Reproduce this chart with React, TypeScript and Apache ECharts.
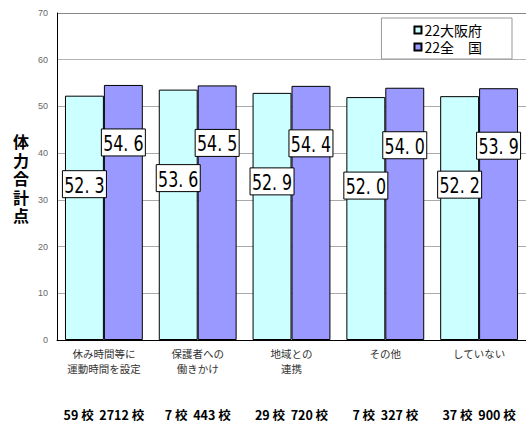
import React, { useEffect, useRef } from "react";
import * as echarts from "echarts";

const categories = ["休み時間等に\n運動時間を設定", "保護者への\n働きかけ", "地域との\n連携", "その他", "していない"];
const osakaValues = [52.3, 53.6, 52.9, 52.0, 52.2];
const nationalValues = [54.6, 54.5, 54.4, 54.0, 53.9];
const osakaSchools = [59, 7, 29, 7, 37];
const nationalSchools = [2712, 443, 720, 327, 900];
const seriesNames = ["22大阪府", "22全　国"];
const yTicks = { min: 0, max: 70, interval: 10 };
const yAxisTitle = "体力合計点";

const schoolLabels = osakaSchools.map((o, i) => `${o} 校  ${nationalSchools[i]} 校`);

const fmt = (v: number) => v.toFixed(1).replace(".", ". ");

const CAT_GAP = 0.17;

function labelSeries(values: number[], side: number, dist: number) {
  return {
    type: "custom",
    silent: true,
    z: 5,
    data: values.map((v, i) => [i, v]),
    encode: { x: 0, y: 1 },
    renderItem: (params: any, api: any) => {
      const idx = api.value(0);
      const val = api.value(1);
      const pt = api.coord([idx, val]);
      const catW = api.size([1, 0])[0];
      const barW = (catW * (1 - CAT_GAP)) / 2;
      const cx = pt[0] + (side * barW) / 2;
      const top = pt[1] + dist;
      const w = 44;
      const h = 27;
      return {
        type: "group",
        children: [
          {
            type: "rect",
            shape: { x: cx - w / 2, y: top, width: w, height: h },
            style: { fill: "#fff", stroke: "#000", lineWidth: 1 },
          },
          {
            type: "text",
            x: cx,
            y: top + h / 2 + 1,
            scaleX: 0.72,
            style: {
              text: fmt(val),
              font: "22px 'DejaVu Sans', sans-serif",
              fill: "#000",
              align: "center",
              verticalAlign: "middle",
            },
          },
        ],
      };
    },
  };
}

export default function App() {
  const ref = useRef<HTMLDivElement>(null);
  useEffect(() => {
    if (!ref.current) return;
    const chart = echarts.init(ref.current, null, { renderer: "svg" });
    chart.setOption({
      animation: false,
      textStyle: { fontFamily: "'Noto Sans CJK JP', sans-serif" },
      grid: { left: 57, right: -1, top: 13, bottom: 86, containLabel: false },
      legend: {
        orient: "vertical",
        right: 14,
        top: 18,
        padding: [5, 30, 5, 32],
        itemGap: 3,
        itemWidth: 7,
        itemHeight: 7,
        icon: "rect",
        backgroundColor: "#fff",
        borderColor: "#999",
        borderWidth: 1,
        textStyle: { fontSize: 14, color: "#000", padding: [0, 0, 0, -2] },
        data: seriesNames,
      },
      graphic: yAxisTitle.split("").map((ch, i) => ({
        type: "text",
        x: 21,
        y: 141 + i * 18.5,
        style: {
          text: ch,
          font: "bold 16px 'Noto Sans CJK JP', sans-serif",
          fill: "#000",
          align: "center",
          verticalAlign: "middle",
        },
      })),
      xAxis: [
        {
          type: "category",
          data: categories,
          axisLine: { show: true, lineStyle: { color: "#000", width: 1 } },
          axisTick: { show: false },
          axisLabel: { fontSize: 10.5, color: "#333", lineHeight: 15, margin: 6, interval: 0 },
        },
        {
          type: "category",
          data: schoolLabels,
          position: "bottom",
          axisLine: { show: false },
          axisTick: { show: false },
          axisLabel: { fontSize: 12.5, fontWeight: "bold", color: "#000", margin: 68, interval: 0 },
        },
      ],
      yAxis: {
        type: "value",
        min: yTicks.min,
        max: yTicks.max,
        interval: yTicks.interval,
        axisLine: { show: true, lineStyle: { color: "#000", width: 1 } },
        axisTick: { show: false },
        axisLabel: { fontSize: 9, color: "#666", margin: 9, fontFamily: "'Liberation Sans', sans-serif" },
        splitLine: {
          show: true,
          lineStyle: { color: ["#aaa", "#aaa", "#aaa", "#aaa", "#aaa", "#aaa", "#b5b5b5", "#888"], width: 1 },
        },
      },
      series: [
        {
          name: seriesNames[0],
          type: "bar",
          data: osakaValues,
          barGap: "0%",
          barCategoryGap: CAT_GAP * 100 + "%",
          itemStyle: { color: "#CCFFFF", borderColor: "#000", borderWidth: 1 },
        },
        {
          name: seriesNames[1],
          type: "bar",
          data: nationalValues,
          barGap: "0%",
          barCategoryGap: CAT_GAP * 100 + "%",
          itemStyle: { color: "#9999FF", borderColor: "#000", borderWidth: 1 },
        },
        labelSeries(osakaValues, -1, 75),
        labelSeries(nationalValues, 1, 44),
      ],
    });
    return () => chart.dispose();
  }, []);
  return (
    <div
      ref={ref}
      style={{ position: "absolute", left: 0, top: 0, width: 526, height: 426, background: "#fff" }}
    />
  );
}
